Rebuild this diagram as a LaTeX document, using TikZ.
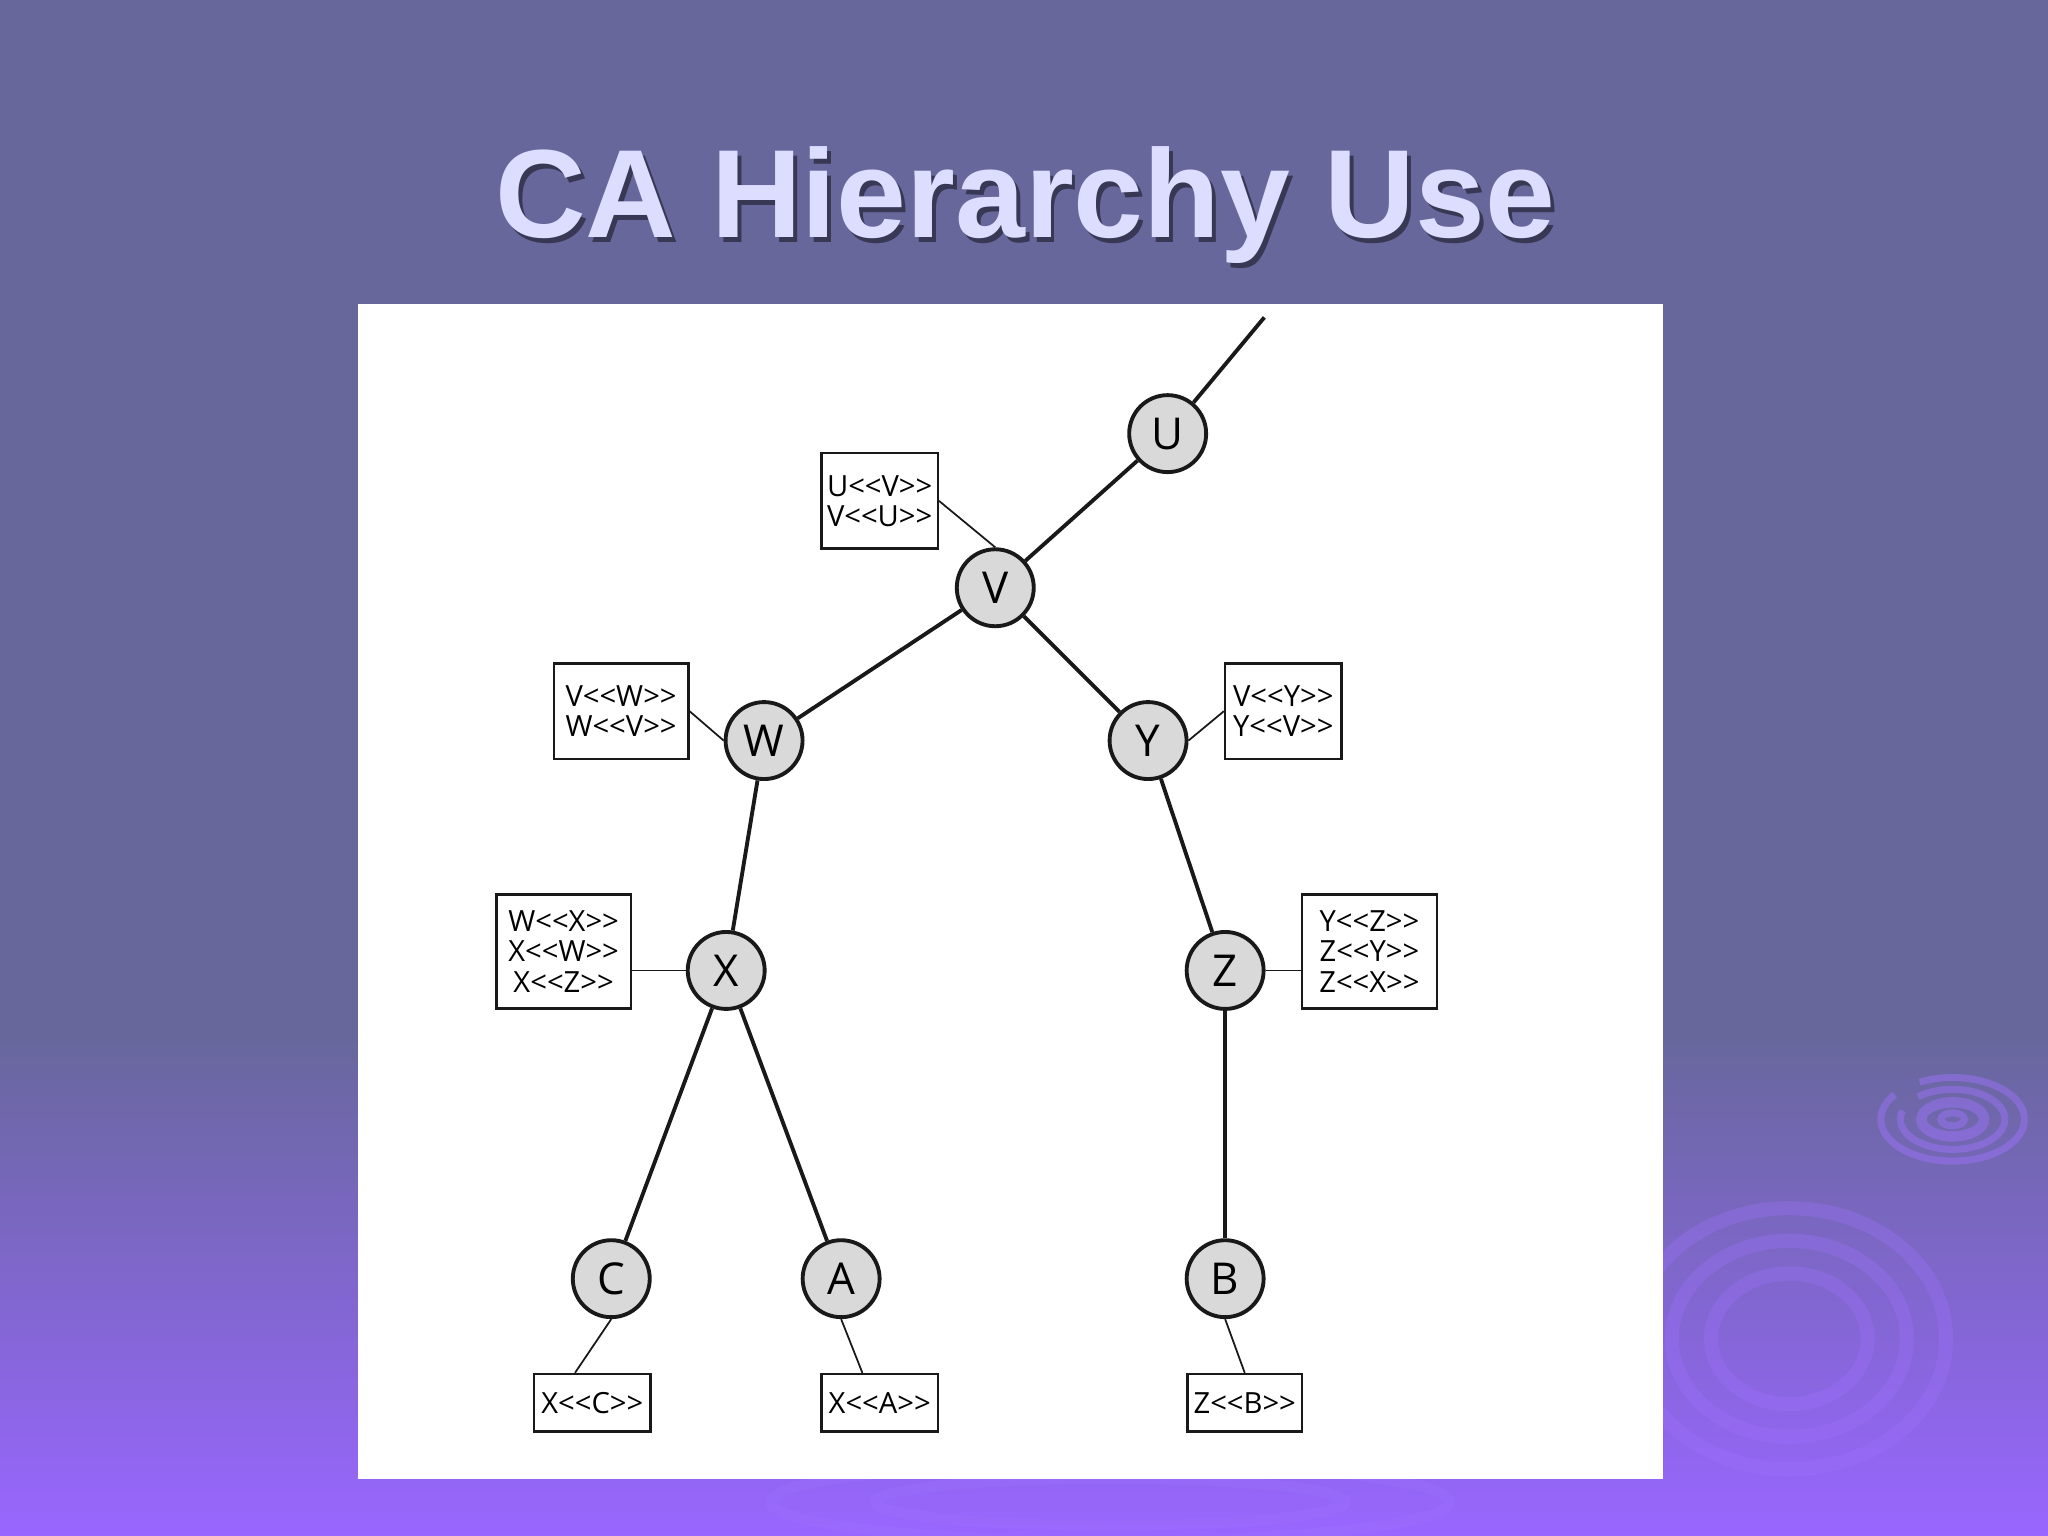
\documentclass[tikz,border=0pt]{standalone}
\usepackage{fontspec}
\setmainfont{Liberation Sans}
\newfontfamily\boxfont{Open Sans}
\definecolor{bgtop}{RGB}{103,103,155}
\definecolor{bgbot}{RGB}{153,102,255}
\definecolor{titlec}{RGB}{221,221,255}
\definecolor{ripc}{RGB}{160,115,255}
\definecolor{linec}{RGB}{25,25,25}
\definecolor{nodefill}{RGB}{217,217,217}
\tikzset{
  cnode/.style={circle, draw=linec, line width=1.1pt, fill=nodefill, minimum size=21.9pt, inner sep=0pt,
    font=\boxfont\fontsize{12.5}{14}\selectfont},
  cbox/.style={draw=linec, line width=0.7pt, fill=white, inner sep=0pt, align=center,
    font=\boxfont\fontsize{8.3}{8.6}\selectfont},
  bigbox/.style={cbox, minimum width=38.28pt, minimum height=27.13pt},
  smallbox/.style={cbox, minimum width=33.07pt, minimum height=27.13pt},
  triplebox/.style={cbox, minimum width=38.28pt, minimum height=32.33pt},
  leafbox/.style={cbox, minimum width=33.07pt, minimum height=16.35pt},
  tedge/.style={draw=linec, line width=1.1pt},
  bedge/.style={draw=linec, line width=0.5pt},
  ripple/.style={draw=ripc, line width=2pt, opacity=0.45},
}
\begin{document}
\begin{tikzpicture}[x=0.0130612cm, y=-0.0130612cm]
\useasboundingbox (0,0) rectangle (1568,1176);
% background
\fill[bgtop] (0,0) rectangle (1568,790);
\shade[top color=bgtop, bottom color=bgbot] (0,789) rectangle (1568,1176);
% ripples
\draw[ripple, dash pattern=on 60pt off 8pt] (1495,857) ellipse [x radius=55, y radius=32];
\draw[ripple, dash pattern=on 40pt off 6pt] (1495,857) ellipse [x radius=40, y radius=23];
\draw[ripple, line width=3pt] (1495,857) ellipse [x radius=24, y radius=13];
\draw[ripple, line width=2pt] (1495,857) ellipse [x radius=9, y radius=5];
\draw[ripple, line width=4pt, opacity=0.3] (1370,1025) ellipse [x radius=120, y radius=100];
\draw[ripple, line width=4pt, opacity=0.3] (1370,1025) ellipse [x radius=90, y radius=75];
\draw[ripple, line width=4pt, opacity=0.3] (1370,1025) ellipse [x radius=60, y radius=50];
\draw[ripple, line width=3pt, opacity=0.25] (850,1150) ellipse [x radius=260, y radius=30];
\draw[ripple, line width=3pt, opacity=0.25] (850,1150) ellipse [x radius=180, y radius=18];
% title
\node[font=\bfseries\fontsize{35.7}{40}\selectfont, text=black, opacity=0.45, anchor=base] (titleshadow) at (788,186) {CA Hierarchy Use};
\node[font=\bfseries\fontsize{35.7}{40}\selectfont, text=titlec, anchor=base] (title) at (785,182) {CA Hierarchy Use};
% panel
\fill[white] (274,233) rectangle (1273,1132);
% tree nodes
\node[cnode] (U) at (894,332) {U};
\node[cnode] (V) at (762,450) {V};
\node[cnode] (W) at (585,567) {W};
\node[cnode] (Y) at (879,567) {Y};
\node[cnode] (X) at (556,743) {X};
\node[cnode] (Z) at (938,743) {Z};
\node[cnode] (C) at (468,979) {C};
\node[cnode] (A) at (644,979) {A};
\node[cnode] (B) at (938,979) {B};
\coordinate (top) at (968,243);
% certificate boxes
\node[smallbox] (uv) at (673.5,383.5) {U<{}<V>{}>\\V<{}<U>{}>};
\node[bigbox] (vw) at (475.5,544.5) {V<{}<W>{}>\\W<{}<V>{}>};
\node[smallbox] (vy) at (982.5,544.5) {V<{}<Y>{}>\\Y<{}<V>{}>};
\node[triplebox] (wx) at (431.5,728.5) {W<{}<X>{}>\\X<{}<W>{}>\\X<{}<Z>{}>};
\node[triplebox] (yz) at (1048.5,728.5) {Y<{}<Z>{}>\\Z<{}<Y>{}>\\Z<{}<X>{}>};
\node[leafbox] (xc) at (453.5,1074) {X<{}<C>{}>};
\node[leafbox] (xa) at (673.5,1074) {X<{}<A>{}>};
\node[leafbox, minimum width=32.7pt] (zb) at (953,1074) {Z<{}<B>{}>};
% tree edges
\draw[tedge] (U) -- (top);
\draw[tedge] (U) -- (V);
\draw[tedge] (V) -- (W);
\draw[tedge] (V) -- (Y);
\draw[tedge] (W) -- (X);
\draw[tedge] (Y) -- (Z);
\draw[tedge] (X) -- (C);
\draw[tedge] (X) -- (A);
\draw[tedge] (Z) -- (B);
% box connectors
\draw[bedge] (uv.east) -- (V.north);
\draw[bedge] (vw.east) -- (W.west);
\draw[bedge] (vy.west) -- (Y.east);
\draw[bedge] (X.west -| wx.east) -- (X.west);
\draw[bedge] (Z.east -| yz.west) -- (Z.east);
\draw[bedge] (C.south) -- (xc.120);
\draw[bedge] (A.south) -- (xa.120);
\draw[bedge] (B.south) -- (zb.north);
\end{tikzpicture}
\end{document}
